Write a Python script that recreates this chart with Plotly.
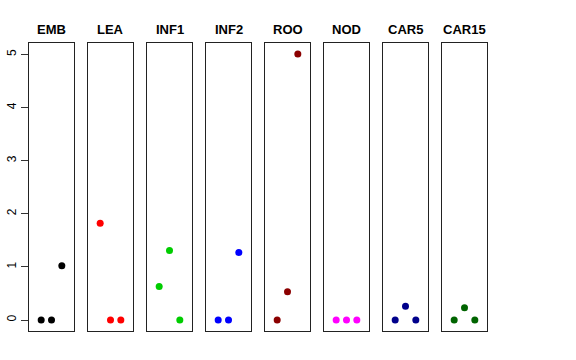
import plotly.graph_objects as go

panels = ["EMB", "LEA", "INF1", "INF2", "ROO", "NOD", "CAR5", "CAR15"]
colors = ["#000000", "#FF0000", "#00CD00", "#0000FF", "#8B0000", "#FF00FF", "#00008B", "#006400"]
x_pos = [1, 2, 3]
values = [
    [0.0, 0.0, 1.02],
    [1.82, 0.0, 0.0],
    [0.63, 1.31, 0.0],
    [0.0, 0.0, 1.27],
    [0.0, 0.53, 5.01],
    [0.0, 0.0, 0.0],
    [0.0, 0.26, 0.0],
    [0.0, 0.23, 0.0],
]
y_ticks = [0, 1, 2, 3, 4, 5]

W, H = 576, 360
fig = go.Figure()
layout = dict(width=W, height=H, margin=dict(l=0, r=0, t=0, b=0, autoexpand=False),
              paper_bgcolor="white", plot_bgcolor="white", showlegend=False)
y0 = (H - 331) / H
y1 = (H - 43) / H
annotations = []
for i, (name, col, vals) in enumerate(zip(panels, colors, values)):
    sx = "" if i == 0 else str(i + 1)
    fig.add_trace(go.Scatter(x=x_pos, y=vals, mode="markers",
                             marker=dict(color=col, size=7),
                             xaxis="x" + sx, yaxis="y" + sx,
                             hoverinfo="skip"))
    left = (29 + 59 * i) / W
    right = (74 + 59 * i) / W
    layout["xaxis" + sx] = dict(domain=[left, right], range=[-0.18, 4.18],
                                showgrid=False, zeroline=False, showticklabels=False,
                                ticks="", showline=True, mirror=True,
                                linecolor="#222222", linewidth=1, automargin=False,
                                anchor="y" + sx, fixedrange=True)
    ya = dict(domain=[y0, y1], range=[-0.207, 5.216], showgrid=False, zeroline=False,
              showline=True, mirror=True, linecolor="#222222", linewidth=1,
              automargin=False, anchor="x" + sx, fixedrange=True)
    if i == 0:
        ya.update(tickvals=y_ticks, ticktext=[str(t) for t in y_ticks], ticks="outside",
                  ticklen=7, tickcolor="#333333", tickangle=-90,
                  tickfont=dict(family="Liberation Sans, Arial", size=12, color="black"))
    else:
        ya.update(showticklabels=False, ticks="")
    layout["yaxis" + sx] = ya
    annotations.append(dict(text="<b>" + name + "</b>", x=(left + right) / 2, y=(H - 29) / H,
                            xref="paper", yref="paper", showarrow=False,
                            xanchor="center", yanchor="middle",
                            font=dict(family="Liberation Sans, Arial", size=13, color="black")))
layout["annotations"] = annotations
fig.update_layout(**layout)
fig.write_html("out.html", config={"displayModeBar": False},
               post_script="document.body.style.margin='0';document.body.style.padding='0';")
